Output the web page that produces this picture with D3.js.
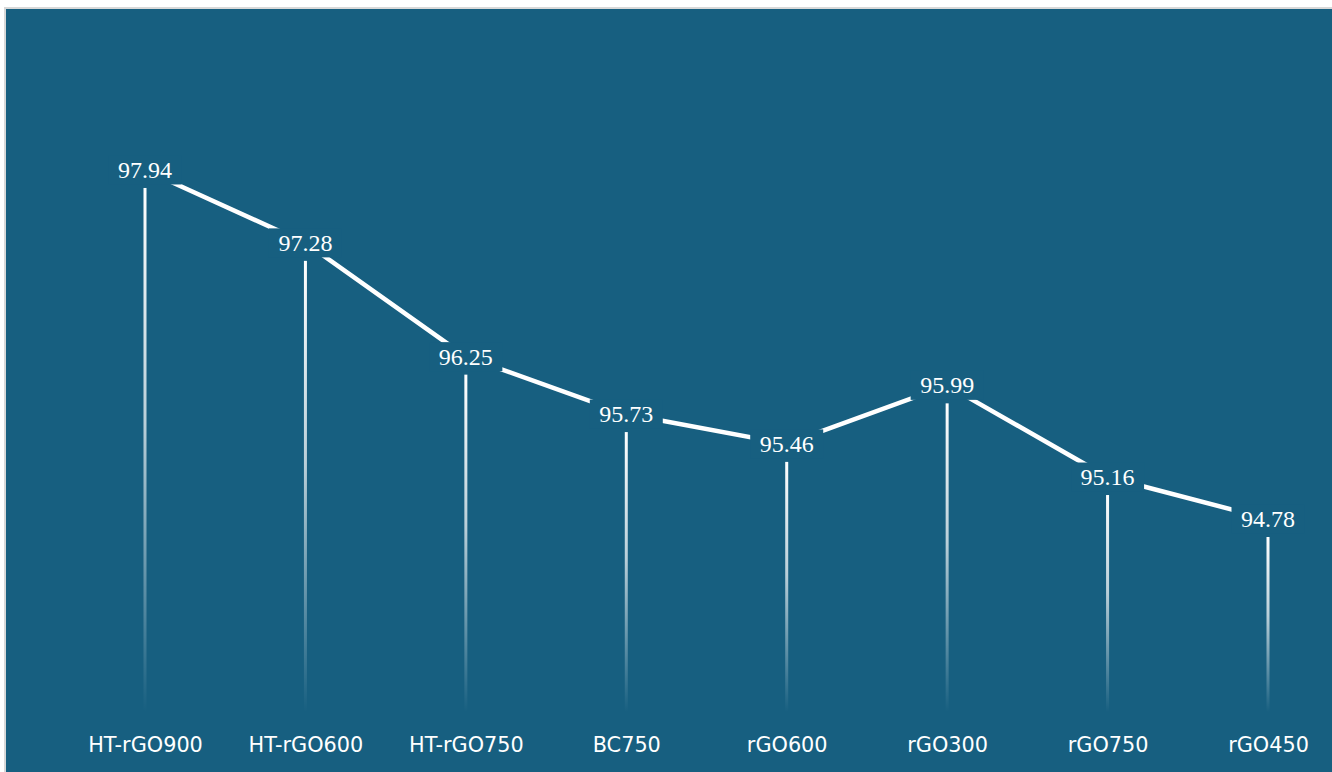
<!DOCTYPE html>
<html>
<head>
<meta charset="utf-8">
<script src="https://cdn.jsdelivr.net/npm/d3@7/dist/d3.min.js"></script>
<style>
  html, body { margin: 0; padding: 0; background: #ffffff; }
  svg { display: block; }
</style>
</head>
<body>
<svg id="chart" width="1332" height="772"></svg>
<script>
// Sample names and their measured values
const categories = ["HT-rGO900", "HT-rGO600", "HT-rGO750", "BC750", "rGO600", "rGO300", "rGO750", "rGO450"];
const values = [97.94, 97.28, 96.25, 95.73, 95.46, 95.99, 95.16, 94.78];
const yDomain = [93, 99];

const W = 1332, H = 772;
const bg = "#175f80";
const svg = d3.select("#chart");

// Panel with a thin light border at top and left
svg.append("rect")
  .attr("x", 5).attr("y", 8).attr("width", W).attr("height", H)
  .attr("fill", bg).attr("stroke", "#d8d8d8").attr("stroke-width", 2);

const x = d3.scalePoint().domain(categories).range([145, 1268]);
const y = d3.scaleLinear().domain(yDomain).range([715.6, 52.9]);

const data = categories.map((c, i) => ({ c, v: values[i] }));

// Fading gradient for the vertical stems
const defs = svg.append("defs");
const grad = defs.append("linearGradient")
  .attr("id", "stemFade").attr("x1", 0).attr("y1", 0).attr("x2", 0).attr("y2", 1);
grad.append("stop").attr("offset", "0%").attr("stop-color", "#ffffff").attr("stop-opacity", 1);
grad.append("stop").attr("offset", "45%").attr("stop-color", "#ffffff").attr("stop-opacity", 0.7);
grad.append("stop").attr("offset", "100%").attr("stop-color", "#ffffff").attr("stop-opacity", 0);

const stemBottom = 712;
svg.append("g").selectAll("rect")
  .data(data).join("rect")
  .attr("x", d => x(d.c) - 1.5)
  .attr("y", d => y(d.v) + 18)
  .attr("width", 3)
  .attr("height", d => stemBottom - (y(d.v) + 18))
  .attr("fill", "url(#stemFade)");

// Connecting line through the value labels
const line = d3.line().x(d => x(d.c)).y(d => y(d.v));
svg.append("path")
  .datum(data)
  .attr("d", line)
  .attr("fill", "none")
  .attr("stroke", "#ffffff")
  .attr("stroke-width", 4.5);

// Value labels sit on knockout boxes that interrupt the line
const lab = svg.append("g").selectAll("g")
  .data(data).join("g")
  .attr("transform", d => `translate(${x(d.c)},${y(d.v)})`);

const texts = lab.append("text")
  .attr("text-anchor", "middle")
  .attr("y", 8)
  .attr("fill", "#ffffff")
  .attr("font-family", "Liberation Serif")
  .attr("font-size", 24)
  .text(d => d.v.toFixed(2));

texts.each(function () {
  const b = this.getBBox();
  d3.select(this.parentNode).insert("rect", "text")
    .attr("x", b.x - 9.5)
    .attr("y", -14.5)
    .attr("width", b.width + 19)
    .attr("height", 29)
    .attr("fill", bg);
});

// Category axis labels
const xAxis = svg.append("g")
  .attr("transform", `translate(0,${stemBottom})`)
  .call(d3.axisBottom(x).tickSize(0).tickPadding(0));
xAxis.select(".domain").remove();
xAxis.selectAll("text")
  .attr("y", 40)
  .attr("dy", 0)
  .attr("fill", "#ffffff")
  .attr("font-family", "'DejaVu Sans', Verdana, sans-serif")
  .attr("font-size", 20.8);
</script>
</body>
</html>
